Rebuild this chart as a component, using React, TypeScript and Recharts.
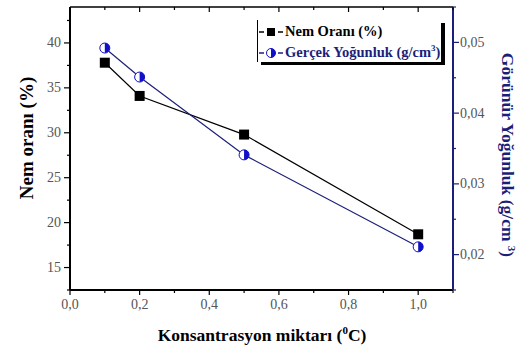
import { Line, LineChart, XAxis, YAxis } from "recharts";

const konsantrasyon = [0.1, 0.2, 0.5, 1.0];
const nemOrani = [37.8, 34.1, 29.8, 18.7];
const yogunluk = [0.0492, 0.0451, 0.0341, 0.0211];

const xTicks = [0, 0.1, 0.2, 0.3, 0.4, 0.5, 0.6, 0.7, 0.8, 0.9, 1.0, 1.1];
const leftTicks = [12.5, 15, 17.5, 20, 22.5, 25, 27.5, 30, 32.5, 35, 37.5, 40, 42.5];
const rightTicks = [0.015, 0.02, 0.025, 0.03, 0.035, 0.04, 0.045, 0.05, 0.055];

const data = konsantrasyon.map((k, i) => ({
  k,
  nem: nemOrani[i],
  yog: yogunluk[i],
}));

const NAVY = "#1c1f7a";
const BLUE = "#1010c8";
const TICK_GREY = "#555";
const FONT = "'Liberation Serif', 'DejaVu Serif', serif";
const tickStyle = { fontFamily: FONT, fontSize: 14 };

const fmt = (v: number, d: number) => v.toFixed(d).replace(".", ",");

const LeftTick = (props: any) => {
  const { x, y, payload } = props;
  const v = payload.value as number;
  const major = Math.abs(v % 5) < 1e-6;
  const ax = x + 9;
  return (
    <g>
      <line x1={ax} x2={ax - (major ? 6 : 3)} y1={y} y2={y} stroke="#000" strokeWidth={1.2} />
      {major && (
        <text x={x} y={y} dy={4.5} textAnchor="end" fill={TICK_GREY} style={tickStyle}>
          {v}
        </text>
      )}
    </g>
  );
};

const RightTick = (props: any) => {
  const { x, y, payload } = props;
  const v = payload.value as number;
  const major = Math.abs(Math.round(v * 100) - v * 100) < 1e-6;
  const ax = x - 9;
  return (
    <g>
      <line x1={ax} x2={ax + (major ? 6 : 3)} y1={y} y2={y} stroke={NAVY} strokeWidth={1.2} />
      {major && (
        <text x={x - 2} y={y} dy={4.5} textAnchor="start" fill={TICK_GREY} style={tickStyle}>
          {fmt(v, 2)}
        </text>
      )}
    </g>
  );
};

const BottomTick = (props: any) => {
  const { x, y, payload } = props;
  const v = payload.value as number;
  const major = Math.abs(Math.round(v * 10) % 2) === 0;
  const ay = y - 9;
  return (
    <g>
      <line x1={x} x2={x} y1={ay} y2={ay + (major ? 5 : 3)} stroke="#000" strokeWidth={1.2} />
      {major && (
        <text x={x} y={y} dy={10} textAnchor="middle" fill={TICK_GREY} style={tickStyle}>
          {fmt(v, 1)}
        </text>
      )}
    </g>
  );
};

const TopTick = (props: any) => {
  const { x, y, payload } = props;
  const v = payload.value as number;
  const major = Math.abs(Math.round(v * 10) % 2) === 0;
  const ay = y + 9;
  return <line x1={x} x2={x} y1={ay} y2={ay + (major ? 5 : 3)} stroke="#000" strokeWidth={1.2} />;
};

const SquareDot = (props: any) => {
  const { cx, cy } = props;
  if (cx == null || cy == null) return null;
  return <rect x={cx - 5} y={cy - 5} width={10} height={10} fill="#000" />;
};

const HalfDot = (props: any) => {
  const { cx, cy } = props;
  if (cx == null || cy == null) return null;
  const r = 5;
  return (
    <g>
      <circle cx={cx} cy={cy} r={r} fill="#fff" stroke={BLUE} strokeWidth={1} />
      <path d={`M ${cx} ${cy - r} A ${r} ${r} 0 0 1 ${cx} ${cy + r} Z`} fill={BLUE} />
    </g>
  );
};

const App = () => {
  return (
    <div style={{ position: "absolute", left: 0, top: 0, width: 523, height: 347, background: "#fff", fontFamily: FONT }}>
      <LineChart width={523} height={347} data={data} margin={{ top: 0, right: 0, bottom: 0, left: 0 }}>
        <XAxis
          xAxisId="b"
          dataKey="k"
          type="number"
          domain={[0, 1.1]}
          ticks={xTicks}
          height={57}
          tickLine={false}
          tickSize={6}
          tickMargin={3}
          tick={<BottomTick />}
          axisLine={{ stroke: "#000", strokeWidth: 2 }}
          interval={0}
        />
        <XAxis
          xAxisId="t"
          dataKey="k"
          type="number"
          orientation="top"
          domain={[0, 1.1]}
          ticks={xTicks}
          height={7}
          tickLine={false}
          tickSize={6}
          tickMargin={3}
          tick={<TopTick />}
          axisLine={{ stroke: "#000", strokeWidth: 1.5 }}
          interval={0}
        />
        <YAxis
          yAxisId="l"
          domain={[12.5, 44]}
          ticks={leftTicks}
          width={70}
          tickLine={false}
          tickSize={6}
          tickMargin={3}
          tick={<LeftTick />}
          axisLine={{ stroke: "#000", strokeWidth: 2 }}
          interval={0}
        />
        <YAxis
          yAxisId="r"
          orientation="right"
          domain={[0.015, 0.055]}
          ticks={rightTicks}
          width={70}
          tickLine={false}
          tickSize={6}
          tickMargin={3}
          tick={<RightTick />}
          axisLine={{ stroke: NAVY, strokeWidth: 2 }}
          interval={0}
        />
        <Line
          xAxisId="b"
          yAxisId="l"
          dataKey="nem"
          stroke="#000"
          strokeWidth={1.2}
          dot={<SquareDot />}
          activeDot={false}
          isAnimationActive={false}
        />
        <Line
          xAxisId="b"
          yAxisId="r"
          dataKey="yog"
          stroke={NAVY}
          strokeWidth={1.2}
          dot={<HalfDot />}
          activeDot={false}
          isAnimationActive={false}
        />
      </LineChart>

      {/* legend box */}
      <div
        style={{
          position: "absolute",
          left: 257,
          top: 20,
          width: 183,
          height: 41,
          borderLeft: "1px solid #000",
          boxShadow: "4px 3px 0 #000",
          background: "#fff",
          fontSize: 14.5,
          fontWeight: "bold",
          lineHeight: "21px",
          paddingTop: 1,
        }}
      >
        <div style={{ display: "flex", alignItems: "center", color: "#000" }}>
          <svg width={24} height={12} style={{ marginLeft: 1, marginRight: 2 }}>
            <line x1={0} x2={5} y1={6} y2={6} stroke="#000" strokeWidth={1.5} />
            <rect x={8} y={2} width={8} height={8} fill="#000" />
            <line x1={19} x2={24} y1={6} y2={6} stroke="#000" strokeWidth={1.5} />
          </svg>
          Nem Oranı (%)
        </div>
        <div style={{ display: "flex", alignItems: "center", color: NAVY }}>
          <svg width={24} height={12} style={{ marginLeft: 1, marginRight: 2 }}>
            <line x1={0} x2={5} y1={6} y2={6} stroke={NAVY} strokeWidth={1.5} />
            <circle cx={12} cy={6} r={4.5} fill="#fff" stroke={BLUE} />
            <path d="M 12 1.5 A 4.5 4.5 0 0 1 12 10.5 Z" fill={BLUE} />
            <line x1={19} x2={24} y1={6} y2={6} stroke={NAVY} strokeWidth={1.5} />
          </svg>
          <span>
            Gerçek Yoğunluk (g/cm<sup style={{ fontSize: 9, lineHeight: 0 }}>3</sup>)
          </span>
        </div>
      </div>

      {/* axis titles */}
      <div
        style={{
          position: "absolute",
          left: 27,
          top: 138,
          transform: "translate(-50%, -50%) rotate(-90deg)",
          whiteSpace: "nowrap",
          fontSize: 19,
          fontWeight: "bold",
          color: "#000",
        }}
      >
        Nem oranı (%)
      </div>
      <div
        style={{
          position: "absolute",
          left: 507,
          top: 155,
          transform: "translate(-50%, -50%) rotate(90deg)",
          whiteSpace: "nowrap",
          fontSize: 17.5,
          fontWeight: "bold",
          color: NAVY,
        }}
      >
        Görünür Yoğunluk (g/cm <sup style={{ fontSize: 11, lineHeight: 0 }}>3</sup>)
      </div>
      <div
        style={{
          position: "absolute",
          left: 262,
          top: 335,
          transform: "translate(-50%, -50%)",
          whiteSpace: "nowrap",
          fontSize: 17.5,
          fontWeight: "bold",
          color: "#000",
        }}
      >
        Konsantrasyon miktarı (<sup style={{ fontSize: 11, lineHeight: 0 }}>0</sup>C)
      </div>
    </div>
  );
};

export default App;
